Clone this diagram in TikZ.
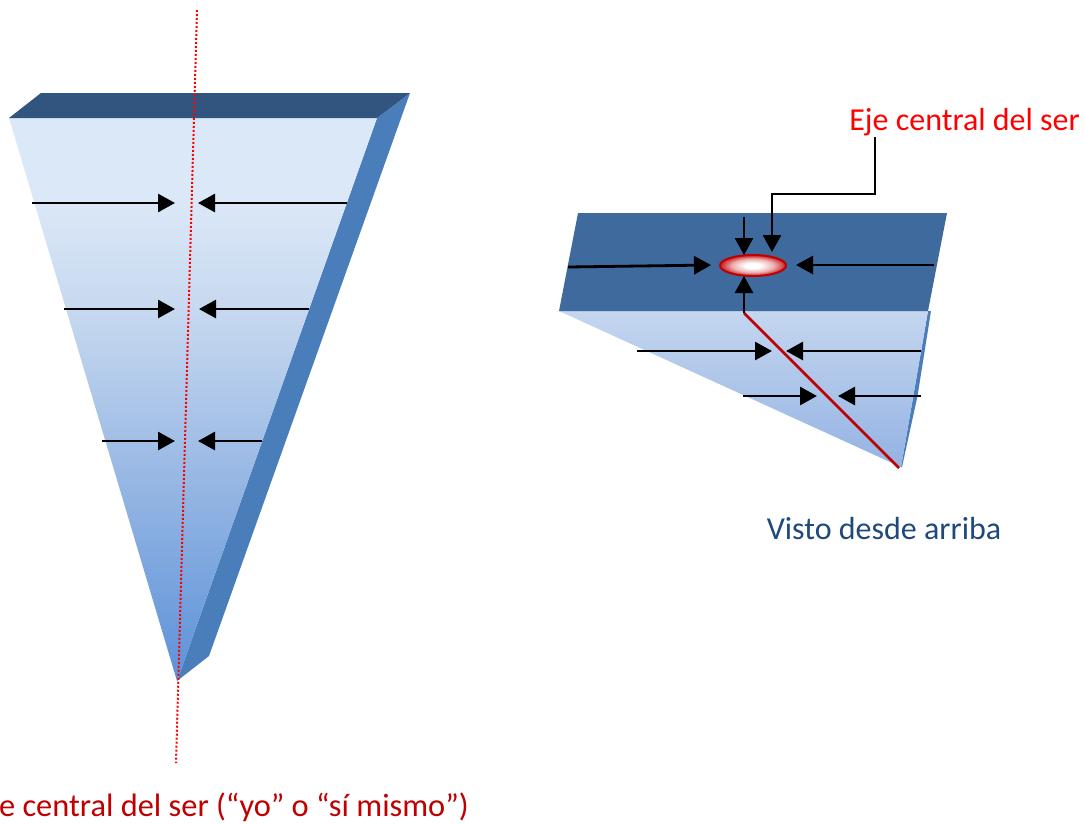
\documentclass[tikz,border=0pt]{standalone}
\usepackage{fontspec}
\setmainfont{Carlito}
\usetikzlibrary{arrows.meta,shapes.geometric}
\definecolor{cTopL}{HTML}{32557F}
\definecolor{cSide}{HTML}{4A7EBB}
\definecolor{cTopR}{HTML}{3F6A9E}
\definecolor{cDark}{HTML}{C00000}
\definecolor{cNavy}{HTML}{1F497D}
\pgfdeclareverticalshading{wedgeLeft}{100bp}{
  rgb(0bp)=(0.36,0.57,0.85);
  rgb(25bp)=(0.36,0.57,0.85);
  rgb(42bp)=(0.58,0.71,0.89);
  rgb(58bp)=(0.78,0.85,0.94);
  rgb(68bp)=(0.86,0.91,0.97);
  rgb(100bp)=(0.86,0.91,0.97)}
\pgfdeclareverticalshading{wedgeRight}{100bp}{
  rgb(0bp)=(0.58,0.70,0.89);
  rgb(25bp)=(0.58,0.70,0.89);
  rgb(75bp)=(0.77,0.84,0.94);
  rgb(100bp)=(0.77,0.84,0.94)}
\pgfdeclareradialshading{coreGlow}{\pgfpointorigin}{
  rgb(0bp)=(1,1,1);
  rgb(6bp)=(1,1,1);
  rgb(16bp)=(0.93,0.68,0.68);
  rgb(25bp)=(0.78,0.12,0.12);
  rgb(50bp)=(0.75,0,0)}
\tikzset{
  push/.style={line width=2.8pt,-{Triangle[length=17pt,width=18pt]}},
  axisdots/.style={red,line width=2pt,dash pattern=on 2pt off 2pt},
  lbl/.style={inner sep=0pt,font=\fontsize{32}{36}\selectfont},
}
\begin{document}
\begin{tikzpicture}[x=1pt,y=-1pt]
\useasboundingbox (0,0) rectangle (1086,823);
\clip (0,0) rectangle (1086,823);
% left wedge
\fill[cSide] (377,118) -- (410,93) -- (209,656) -- (177,681) -- cycle;
\shade[shading=wedgeLeft] (9,118) -- (377,118) -- (177,681) -- cycle;
\fill[cTopL] (9,118) -- (41,93) -- (410,93) -- (377,118) -- cycle;
% left axis
\coordinate (axT) at (197,10);
\coordinate (axB) at (176,763);
\draw[axisdots] (axT) -- (axB);
% left arrows
\coordinate (a1) at (32,203);  \coordinate (a1t) at (175,203);
\coordinate (b1) at (347,203); \coordinate (b1t) at (198,203);
\coordinate (a2) at (64,309);  \coordinate (a2t) at (175,309);
\coordinate (b2) at (309,309); \coordinate (b2t) at (199,309);
\coordinate (a3) at (102,441); \coordinate (a3t) at (175,441);
\coordinate (b3) at (262,441); \coordinate (b3t) at (198,441);
\foreach \s/\e in {a1/a1t,b1/b1t,a2/a2t,b2/b2t,a3/a3t,b3/b3t}
  \draw[push] (\s) -- (\e);
% right view
\fill[cSide] (928,311) -- (931,311) -- (917.5,396) -- (902,467) -- (901,467) -- cycle;
\shade[shading=wedgeRight] (559,311) -- (928,311) -- (901,467) -- cycle;
\fill[cTopR] (578,213) -- (947,213) -- (928,311) -- (559,311) -- cycle;
\node[ellipse,minimum width=66pt,minimum height=21pt,inner sep=0pt,draw=cDark,line width=2pt,
  shading=coreGlow] (core) at (753,265.5) {};
\coordinate (rT) at (744,313);
\coordinate (rB) at (899,468);
\draw[cDark,line width=2.8pt] (rT) -- (rB);
\coordinate (c1) at (568,267); \coordinate (c1t) at (711,265);
\coordinate (d1) at (934,265); \coordinate (d1t) at (796,265);
\coordinate (c2) at (637,351); \coordinate (c2t) at (772,351);
\coordinate (d2) at (921,351); \coordinate (d2t) at (786,351);
\coordinate (c3) at (743,396); \coordinate (c3t) at (817,396);
\coordinate (d3) at (921,396); \coordinate (d3t) at (838,396);
\coordinate (e1) at (744,217); \coordinate (e1t) at (744,255);
\coordinate (e2t) at (744,276);
\foreach \s/\e in {c1/c1t,d1/d1t,c2/c2t,d2/d2t,c3/c3t,d3/d3t,e1/e1t,rT/e2t}
  \draw[push] (\s) -- (\e);
% labels
\node[lbl,text=red,anchor=base east] (ejeR) at (1080,130) {Eje central del ser};
\node[lbl,text=cNavy,anchor=base] (visto) at (884,539) {Visto desde arriba};
\node[lbl,text=cDark,anchor=base east,font=\fontsize{32.4}{36}\selectfont] (ejeL) at (469,816) {Eje central del ser (“yo” o “sí mismo”)};
\coordinate (lead) at (875,137);
\coordinate (leadt) at (772,252);
\draw[push] (lead) -- (875,194) -- (772,194) -- (leadt);
\end{tikzpicture}
\end{document}
